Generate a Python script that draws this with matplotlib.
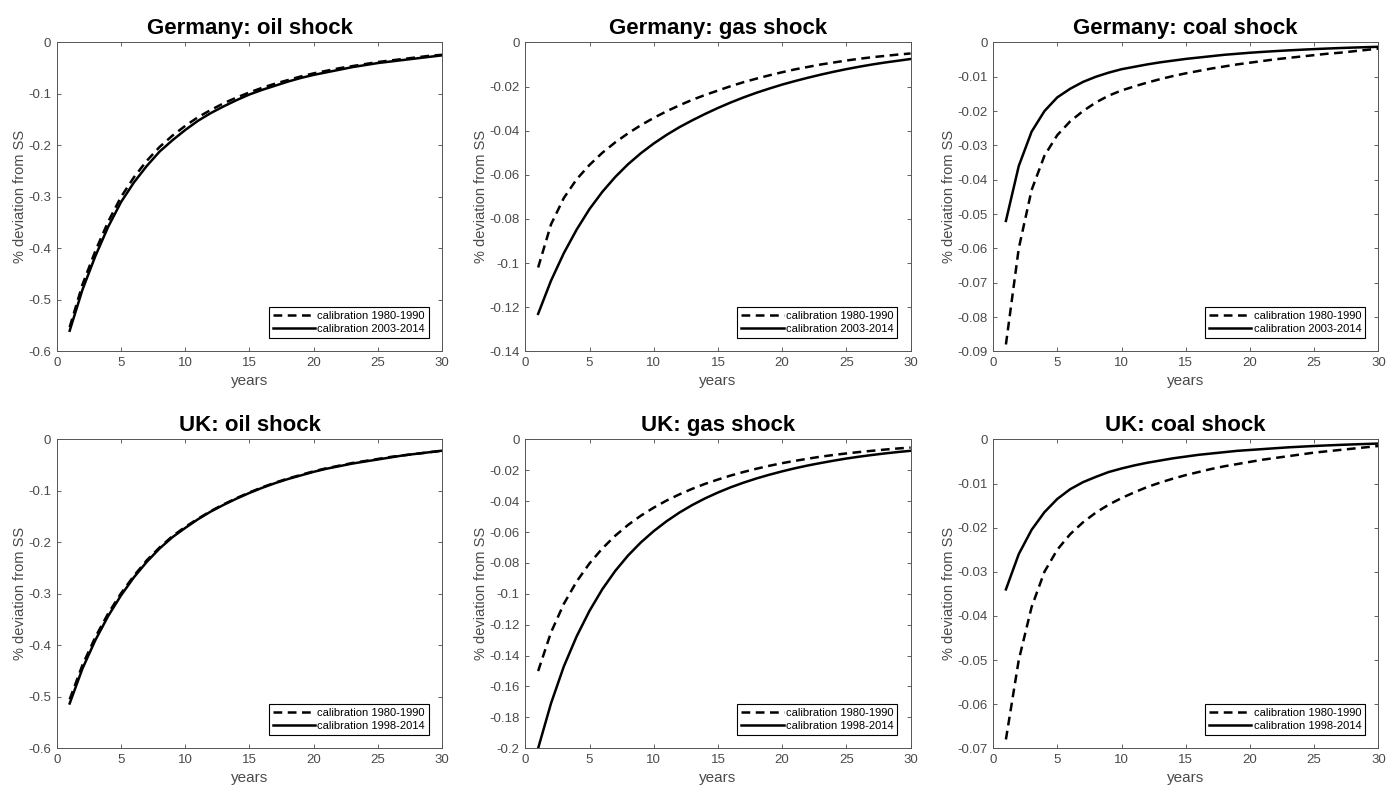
import numpy as np
import matplotlib
matplotlib.use("Agg")
import matplotlib.pyplot as plt
from matplotlib.ticker import FuncFormatter

plt.rcParams['font.family'] = ['Liberation Sans', 'DejaVu Sans']
plt.rcParams['axes.unicode_minus'] = False

years = list(range(1, 31))

# Germany
de_oil_old = [-0.553, -0.470, -0.405, -0.348, -0.300, -0.262, -0.230, -0.203, -0.181, -0.162,
              -0.145, -0.131, -0.118, -0.107, -0.097, -0.088, -0.080, -0.073, -0.066, -0.060,
              -0.055, -0.050, -0.046, -0.042, -0.038, -0.035, -0.032, -0.029, -0.026, -0.024]
de_oil_new = [-0.560, -0.480, -0.415, -0.358, -0.310, -0.272, -0.240, -0.212, -0.190, -0.170,
              -0.152, -0.137, -0.124, -0.112, -0.101, -0.092, -0.084, -0.076, -0.069, -0.063,
              -0.058, -0.053, -0.048, -0.044, -0.040, -0.037, -0.034, -0.031, -0.028, -0.025]
de_gas_old = [-0.1020, -0.0825, -0.0705, -0.0620, -0.0555, -0.0500, -0.0453, -0.0412, -0.0375, -0.0342,
              -0.0312, -0.0285, -0.0260, -0.0238, -0.0218, -0.0198, -0.0180, -0.0164, -0.0149, -0.0135,
              -0.0122, -0.0111, -0.0100, -0.0091, -0.0082, -0.0074, -0.0067, -0.0061, -0.0055, -0.0050]
de_gas_new = [-0.1230, -0.1080, -0.0955, -0.0848, -0.0755, -0.0677, -0.0610, -0.0552, -0.0502, -0.0458,
              -0.0419, -0.0384, -0.0353, -0.0324, -0.0297, -0.0272, -0.0249, -0.0228, -0.0209, -0.0191,
              -0.0175, -0.0160, -0.0146, -0.0133, -0.0121, -0.0110, -0.0100, -0.0091, -0.0083, -0.0075]
de_coal_old = [-0.088, -0.060, -0.043, -0.033, -0.027, -0.023, -0.020, -0.0175, -0.0155, -0.014,
               -0.0128, -0.0117, -0.0107, -0.0098, -0.009, -0.0083, -0.0076, -0.007, -0.0064, -0.0059,
               -0.0054, -0.0049, -0.0045, -0.0041, -0.0037, -0.0033, -0.0030, -0.0026, -0.0022, -0.0018]
de_coal_new = [-0.052, -0.036, -0.026, -0.020, -0.016, -0.0135, -0.0115, -0.010, -0.0088, -0.0078,
               -0.0071, -0.0064, -0.0058, -0.0053, -0.0048, -0.0044, -0.0040, -0.0036, -0.0033, -0.0030,
               -0.00275, -0.00252, -0.00231, -0.00212, -0.00194, -0.00178, -0.00163, -0.0015, -0.00138, -0.00127]

# UK
uk_oil_old = [-0.505, -0.438, -0.384, -0.338, -0.299, -0.265, -0.235, -0.210, -0.188, -0.170,
              -0.154, -0.139, -0.126, -0.114, -0.103, -0.093, -0.084, -0.076, -0.069, -0.062,
              -0.056, -0.051, -0.046, -0.042, -0.038, -0.034, -0.031, -0.028, -0.025, -0.022]
uk_oil_new = [-0.513, -0.445, -0.390, -0.343, -0.303, -0.268, -0.238, -0.212, -0.190, -0.172,
              -0.155, -0.140, -0.127, -0.115, -0.104, -0.094, -0.085, -0.077, -0.070, -0.063,
              -0.057, -0.052, -0.047, -0.043, -0.039, -0.035, -0.031, -0.028, -0.025, -0.022]
uk_gas_old = [-0.1500, -0.1250, -0.1065, -0.0920, -0.0803, -0.0706, -0.0624, -0.0554, -0.0494, -0.0442,
              -0.0396, -0.0356, -0.0320, -0.0288, -0.0260, -0.0234, -0.0211, -0.0190, -0.0171, -0.0154,
              -0.0139, -0.0125, -0.0112, -0.0101, -0.0091, -0.0082, -0.0074, -0.0066, -0.0059, -0.0053]
uk_gas_new = [-0.2000, -0.1710, -0.1470, -0.1275, -0.1110, -0.0970, -0.0852, -0.0752, -0.0667, -0.0594,
              -0.0530, -0.0474, -0.0425, -0.0382, -0.0344, -0.0310, -0.0280, -0.0253, -0.0229, -0.0207,
              -0.0187, -0.0169, -0.0153, -0.0138, -0.0124, -0.0112, -0.0101, -0.0091, -0.0082, -0.0074]
uk_coal_old = [-0.068, -0.050, -0.038, -0.030, -0.025, -0.0215, -0.0188, -0.0166, -0.0148, -0.0133,
               -0.012, -0.0108, -0.0098, -0.0089, -0.0081, -0.0074, -0.0067, -0.0061, -0.0056, -0.0051,
               -0.0046, -0.0042, -0.0038, -0.0034, -0.0030, -0.0027, -0.0024, -0.0021, -0.0018, -0.0015]
uk_coal_new = [-0.034, -0.026, -0.0205, -0.0165, -0.0135, -0.0113, -0.0097, -0.0085, -0.0074, -0.0066,
               -0.0059, -0.0053, -0.0048, -0.0043, -0.0039, -0.0035, -0.0032, -0.0029, -0.0026, -0.0024,
               -0.0022, -0.0020, -0.0018, -0.00165, -0.0015, -0.00137, -0.00125, -0.00114, -0.00104, -0.00095]

titles = ["Germany: oil shock", "Germany: gas shock", "Germany: coal shock",
          "UK: oil shock", "UK: gas shock", "UK: coal shock"]
y_bottoms = [-0.6, -0.14, -0.09, -0.6, -0.2, -0.07]
y_steps = [0.1, 0.02, 0.01, 0.1, 0.02, 0.01]
old_series = [de_oil_old, de_gas_old, de_coal_old, uk_oil_old, uk_gas_old, uk_coal_old]
new_series = [de_oil_new, de_gas_new, de_coal_new, uk_oil_new, uk_gas_new, uk_coal_new]
new_labels = ["calibration 2003-2014"] * 3 + ["calibration 1998-2014"] * 3

fig = plt.figure(figsize=(13.86, 7.86), dpi=100)

lefts = [0.041, 0.379, 0.7165]
bottoms = [0.553, 0.048]
w, h = 0.278, 0.393

tick_col = "#4a4a4a"
fmt = FuncFormatter(lambda v, p: "%g" % (round(v, 4) + 0.0))

for i in range(6):
    ax = fig.add_axes([lefts[i % 3], bottoms[i // 3], w, h])
    ax.plot(years, old_series[i], color="black", lw=1.8, ls=(0, (3.5, 2.2)),
            label="calibration 1980-1990")
    ax.plot(years, new_series[i], color="black", lw=1.8, label=new_labels[i])
    ax.set_xlim(0, 30)
    ax.set_ylim(y_bottoms[i], 0)
    ax.set_xticks(range(0, 31, 5))
    ax.set_yticks(np.arange(y_bottoms[i], y_steps[i] / 2, y_steps[i]))
    ax.yaxis.set_major_formatter(fmt)
    ax.tick_params(direction="in", top=True, right=True, length=3, width=0.6,
                   colors=tick_col, labelsize=9.5, pad=4)
    for s in ax.spines.values():
        s.set_color("#555555")
        s.set_linewidth(0.7)
    ax.set_title(titles[i], fontsize=16, fontweight="bold", pad=6)
    ax.set_xlabel("years", fontsize=11, color=tick_col, labelpad=4)
    ax.set_ylabel("% deviation from SS", fontsize=10.5, color=tick_col, labelpad=1)
    leg = ax.legend(loc="lower right", fontsize=8, fancybox=False, framealpha=1,
                    edgecolor="black", handlelength=3.8, handletextpad=0.2,
                    borderpad=0.35, labelspacing=0.3, borderaxespad=1.2)
    leg.get_frame().set_linewidth(0.8)

fig.savefig("out.png", dpi=100)
